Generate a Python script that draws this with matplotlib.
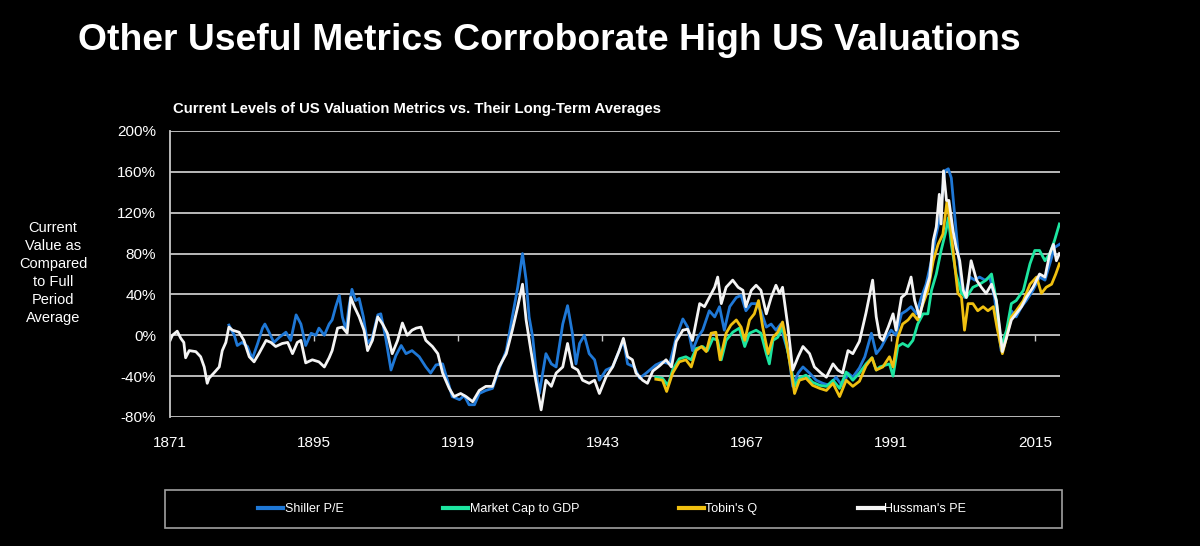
import matplotlib.pyplot as plt
from matplotlib.patches import Rectangle
from matplotlib.ticker import FuncFormatter

plt.rcParams['font.family'] = ['Liberation Sans', 'DejaVu Sans']

# values, % above/below full-period average
hussman_years = [1871.0, 1871.4, 1872.0, 1872.2, 1872.8, 1873.3, 1873.6, 1874.2, 1875.3, 1876.1,
                 1876.7, 1877.2, 1877.5, 1878.3, 1879.2, 1879.7, 1880.3, 1880.8, 1881.4, 1882.5,
                 1883.3, 1884.2, 1885.0, 1885.8, 1887.0, 1887.8, 1888.6, 1889.7, 1890.6, 1891.4,
                 1892.2, 1892.8, 1893.6, 1894.7, 1895.8, 1896.7, 1897.5, 1898.0, 1898.9, 1899.7,
                 1900.5, 1901.1, 1901.7, 1902.5, 1903.3, 1903.9, 1904.7, 1905.6, 1906.4, 1907.2,
                 1908.0, 1908.9, 1909.7, 1910.5, 1911.3, 1912.0, 1912.8, 1913.6, 1914.7, 1915.6,
                 1916.4, 1917.5, 1918.3, 1919.4, 1920.3, 1921.4, 1922.5, 1923.6, 1924.7, 1925.8,
                 1927.0, 1928.0, 1928.9, 1929.7, 1930.3, 1931.1, 1931.9, 1932.8, 1933.6, 1934.5,
                 1935.3, 1936.4, 1937.2, 1938.0, 1938.9, 1939.7, 1940.8, 1941.7, 1942.5, 1943.6,
                 1944.7, 1945.8, 1946.5, 1947.2, 1948.0, 1948.6, 1949.7, 1950.5, 1951.4, 1952.5,
                 1953.6, 1954.5, 1955.3, 1956.4, 1957.2, 1958.0, 1959.2, 1960.0, 1960.8, 1961.7,
                 1962.2, 1962.8, 1963.6, 1964.7, 1965.6, 1966.4, 1966.9, 1967.8, 1968.6, 1969.4,
                 1970.3, 1971.1, 1971.9, 1972.5, 1973.0, 1973.9, 1974.7, 1975.6, 1976.4, 1977.5,
                 1978.3, 1979.4, 1980.3, 1981.4, 1982.2, 1983.0, 1983.9, 1984.7, 1985.8, 1986.9,
                 1988.0, 1988.6, 1989.2, 1989.7, 1990.6, 1991.4, 1991.9, 1992.8, 1993.6, 1994.4,
                 1995.0, 1995.8, 1996.7, 1997.5, 1998.1, 1998.6, 1999.1, 1999.4, 1999.8, 2000.3,
                 2000.7, 2001.4, 2001.9, 2002.5, 2003.1, 2003.6, 2004.4, 2005.3, 2006.1, 2006.9,
                 2007.8, 2008.6, 2009.2, 2009.6, 2010.3, 2011.1, 2011.9, 2012.8, 2013.6, 2014.7,
                 2015.8, 2016.7, 2017.5, 2018.1, 2018.6, 2019.1]
hussman_vals = [-5, 0, 3, 4, -3, -7, -22, -15, -16, -21,
                -31, -47, -42, -37, -31, -15, -7, 8, 5, 3,
                -5, -21, -26, -18, -5, -7, -11, -8, -7, -18,
                -7, -5, -27, -24, -26, -31, -22, -15, 7, 8,
                2, 37, 28, 18, 5, -15, -5, 18, 11, 2,
                -18, -5, 12, 0, 5, 7, 8, -5, -11, -18,
                -37, -52, -60, -57, -60, -65, -54, -50, -50, -31,
                -18, 5, 28, 50, 15, -15, -44, -73, -44, -50,
                -37, -31, -8, -31, -34, -44, -47, -44, -57, -41,
                -31, -15, -3, -21, -24, -37, -44, -47, -35, -30,
                -24, -31, -6, 5, 6, -5, 31, 28, 37, 47,
                57, 31, 47, 54, 47, 44, 28, 44, 49, 44,
                21, 37, 49, 41, 47, 8, -34, -21, -11, -18,
                -31, -37, -41, -28, -34, -37, -15, -18, -6, 22,
                54, 18, -2, -5, 8, 21, 5, 37, 41, 57,
                34, 18, 41, 57, 93, 106, 138, 109, 161, 132,
                132, 102, 86, 73, 44, 37, 73, 54, 47, 41,
                50, 34, 5, -16, -2, 15, 21, 28, 37, 47,
                60, 57, 80, 89, 73, 80]

shiller_years = [1880.8, 1881.7, 1882.2, 1883.0, 1883.9, 1884.7, 1885.6, 1886.4, 1886.8, 1887.5,
                 1888.3, 1889.2, 1890.3, 1891.1, 1892.0, 1892.8, 1893.6, 1894.5, 1895.3, 1895.8,
                 1896.7, 1897.5, 1898.0, 1898.6, 1899.2, 1899.7, 1900.3, 1900.8, 1901.3, 1901.9,
                 1902.5, 1903.2, 1903.9, 1904.7, 1905.6, 1906.1, 1906.9, 1907.8, 1908.6, 1909.5,
                 1910.3, 1911.3, 1912.5, 1913.6, 1914.4, 1915.3, 1916.4, 1917.2, 1918.0, 1919.2,
                 1920.0, 1920.8, 1921.7, 1922.5, 1923.6, 1924.7, 1925.8, 1927.0, 1928.0, 1928.9,
                 1929.7, 1930.3, 1930.8, 1931.4, 1931.9, 1932.5, 1933.6, 1934.5, 1935.3, 1936.4,
                 1937.2, 1938.0, 1938.6, 1939.2, 1940.0, 1940.8, 1941.7, 1942.5, 1943.6, 1944.7,
                 1945.8, 1946.5, 1947.2, 1948.3, 1949.2, 1950.3, 1951.9, 1953.0, 1954.2, 1955.3,
                 1956.4, 1957.2, 1958.0, 1958.9, 1959.7, 1960.8, 1961.7, 1962.5, 1963.3, 1964.2,
                 1965.3, 1966.1, 1966.9, 1967.8, 1968.6, 1969.4, 1970.3, 1971.1, 1971.9, 1972.7,
                 1973.2, 1974.0, 1974.7, 1975.6, 1976.4, 1977.5, 1978.6, 1979.7, 1980.8, 1981.9,
                 1983.0, 1983.9, 1984.7, 1985.8, 1986.7, 1987.8, 1988.6, 1989.4, 1990.3, 1991.1,
                 1991.9, 1992.8, 1993.6, 1994.4, 1995.3, 1996.1, 1996.9, 1997.8, 1998.5, 1999.2,
                 2000.0, 2000.6, 2001.1, 2001.7, 2002.2, 2002.8, 2003.3, 2004.2, 2005.0, 2005.8,
                 2006.7, 2007.5, 2008.3, 2008.9, 2009.4, 2010.3, 2011.1, 2011.9, 2012.8, 2013.6,
                 2014.7, 2015.8, 2016.7, 2017.8, 2018.3, 2019.1]
shiller_vals = [10, 0, -10, -7, -11, -23, -8, 7, 11, 3,
                -7, -2, 3, -5, 20, 11, -10, 2, 0, 7,
                0, 11, 15, 28, 39, 18, 5, 28, 45, 34,
                36, 18, -8, -2, 20, 21, -2, -34, -20, -10,
                -18, -15, -21, -31, -37, -29, -28, -44, -60, -63,
                -59, -68, -68, -57, -54, -52, -33, -15, 18, 47,
                80, 54, 18, -2, -31, -57, -18, -28, -31, 11,
                29, 2, -28, -8, 0, -18, -24, -44, -34, -31,
                -15, -5, -28, -31, -42, -37, -29, -26, -28, -2,
                16, 8, -15, -2, 5, 24, 18, 28, 5, 28,
                37, 39, 24, 31, 31, 24, 8, 11, 5, 11,
                -2, -18, -50, -37, -31, -37, -44, -47, -49, -41,
                -50, -37, -41, -32, -21, 2, -18, -12, -2, 5,
                0, 21, 24, 28, 21, 37, 50, 73, 96, 115,
                161, 163, 154, 115, 83, 50, 37, 57, 54, 57,
                54, 57, 37, 8, -15, -2, 24, 18, 28, 34,
                44, 57, 54, 76, 86, 89]

mktcap_years = [1951.9, 1953.0, 1953.9, 1954.7, 1955.8, 1956.9, 1957.8, 1958.6, 1959.7, 1960.5,
                1961.4, 1962.2, 1962.8, 1963.6, 1964.7, 1965.8, 1966.7, 1967.5, 1968.6, 1969.4,
                1970.3, 1970.8, 1971.4, 1972.2, 1973.0, 1973.6, 1974.4, 1975.0, 1975.8, 1976.9,
                1978.0, 1979.2, 1980.3, 1981.4, 1982.5, 1983.6, 1984.7, 1985.8, 1986.9, 1987.9,
                1988.6, 1989.2, 1990.8, 1991.4, 1992.2, 1993.0, 1993.9, 1994.7, 1995.5, 1996.4,
                1997.2, 1997.8, 1998.6, 1999.4, 2000.2, 2000.6, 2001.1, 2001.9, 2002.8, 2003.6,
                2004.7, 2005.8, 2006.9, 2007.8, 2008.6, 2009.4, 2010.3, 2011.1, 2011.9, 2013.1,
                2014.2, 2015.0, 2015.8, 2016.7, 2017.5, 2018.3, 2019.1]
mktcap_vals = [-41, -42, -49, -34, -23, -21, -24, -13, -11, -15,
               -3, -5, -24, -5, 3, 7, -11, 2, 5, 2,
               -18, -28, -5, -2, 8, -8, -31, -50, -42, -39,
               -46, -49, -50, -44, -52, -36, -44, -37, -28, -22,
               -34, -31, -28, -40, -11, -8, -11, -5, 11, 21,
               21, 44, 60, 83, 102, 115, 89, 60, 41, 37,
               47, 50, 54, 60, 34, -11, 5, 31, 34, 44,
               70, 83, 83, 73, 80, 93, 109]

tobin_years = [1951.9, 1953.0, 1953.7, 1954.7, 1955.8, 1956.9, 1957.8, 1958.6, 1959.5, 1960.3,
               1961.1, 1961.9, 1962.6, 1963.6, 1964.4, 1965.3, 1966.1, 1966.7, 1967.5, 1968.3,
               1969.0, 1969.7, 1970.6, 1971.4, 1972.2, 1973.0, 1973.6, 1974.4, 1975.0, 1975.8,
               1976.9, 1978.0, 1979.2, 1980.3, 1981.4, 1982.5, 1983.6, 1984.7, 1985.8, 1986.9,
               1987.9, 1988.6, 1989.7, 1990.8, 1991.4, 1992.2, 1993.0, 1993.9, 1994.7, 1995.5,
               1996.4, 1997.2, 1998.1, 1998.9, 1999.7, 2000.4, 2001.1, 2001.7, 2002.2, 2002.8,
               2003.3, 2003.9, 2004.7, 2005.5, 2006.4, 2007.2, 2008.1, 2008.7, 2009.6, 2010.3,
               2011.1, 2011.9, 2013.1, 2014.2, 2015.3, 2016.1, 2016.9, 2017.8, 2018.5, 2019.1]
tobin_vals = [-43, -44, -55, -37, -26, -24, -31, -15, -11, -16,
              2, 3, -24, 2, 10, 15, 8, -5, 15, 21,
              34, 8, -18, -2, 3, 13, -5, -34, -57, -44,
              -42, -49, -52, -54, -47, -60, -44, -50, -45, -30,
              -22, -34, -31, -21, -31, -2, 11, 15, 21, 15,
              31, 44, 73, 89, 99, 132, 99, 67, 41, 37,
              5, 31, 31, 24, 28, 24, 28, 8, -18, -2,
              18, 24, 34, 50, 57, 41, 47, 50, 60, 70]

series_names = ['Shiller P/E', 'Market Cap to GDP', "Tobin's Q", "Hussman's PE"]
series_colors = ['#1f78d6', '#1de5a0', '#f0c010', '#f4f4f4']
year_ticks = [1871, 1895, 1919, 1943, 1967, 1991, 2015]
pct_ticks = [-80, -40, 0, 40, 80, 120, 160, 200]

fig = plt.figure(figsize=(12, 5.46), dpi=100, facecolor='black')
ax = fig.add_axes([170 / 1200, 1 - 417 / 546, 890 / 1200, 286 / 546])
ax.set_facecolor('black')

data = [(shiller_years, shiller_vals), (mktcap_years, mktcap_vals),
        (tobin_years, tobin_vals), (hussman_years, hussman_vals)]
for (yrs, vals), name, col in zip(data, series_names, series_colors):
    ax.plot(yrs, vals, color=col, lw=2.0, label=name, solid_joinstyle='round')

ax.set_xlim(1871, 2019.2)
ax.set_ylim(-80, 200)
ax.set_yticks(pct_ticks)
ax.yaxis.set_major_formatter(FuncFormatter(lambda v, p: f'{v:.0f}%'))
ax.set_xticks(year_ticks)
ax.grid(axis='y', color='#c8c8c8', lw=1.3)
ax.set_axisbelow(True)
for s in ['top', 'right', 'bottom']:
    ax.spines[s].set_visible(False)
ax.spines['left'].set_color('#c8c8c8')
ax.spines['left'].set_linewidth(1.3)
ax.tick_params(axis='both', length=0, colors='white', labelsize=11)
ax.tick_params(axis='y', pad=10)
ax.tick_params(axis='x', pad=14)

# small tick marks where the category axis crosses 0%
zero_pos = (0 - pct_ticks[0]) / (pct_ticks[-1] - pct_ticks[0])
sec = ax.secondary_xaxis(zero_pos)
sec.set_xticks(year_ticks)
sec.set_xticklabels([])
sec.spines['bottom'].set_visible(False)
sec.tick_params(length=4, color='#c8c8c8', width=1)

fig.text(78 / 1200, 1 - 50 / 546, 'Other Useful Metrics Corroborate High US Valuations',
         color='white', fontsize=26.8, fontweight='bold', va='baseline')
fig.text(173 / 1200, 1 - 113 / 546, 'Current Levels of US Valuation Metrics vs. Their Long-Term Averages',
         color='white', fontsize=10.7, fontweight='bold', va='baseline')
fig.text(53 / 1200, 1 - 273 / 546, 'Current\nValue as\nCompared\nto Full\nPeriod\nAverage',
         color='white', fontsize=10.5, ha='center', va='center', multialignment='center',
         linespacing=1.38)

fig.patches.append(Rectangle((165 / 1200, 1 - 528 / 546), 897 / 1200, 38 / 546,
                             transform=fig.transFigure, fill=False, edgecolor='#a0a0a0', lw=1.2))
leg = ax.legend(loc='center', bbox_to_anchor=(612 / 1200, 1 - 509 / 546),
                bbox_transform=fig.transFigure, ncol=4, frameon=False, fontsize=9,
                handlelength=2.0, handletextpad=0.1, columnspacing=8.0)
for t in leg.get_texts():
    t.set_color('white')
for h in leg.get_lines():
    h.set_linewidth(3)

fig.savefig('out.png', dpi=100, facecolor='black')
